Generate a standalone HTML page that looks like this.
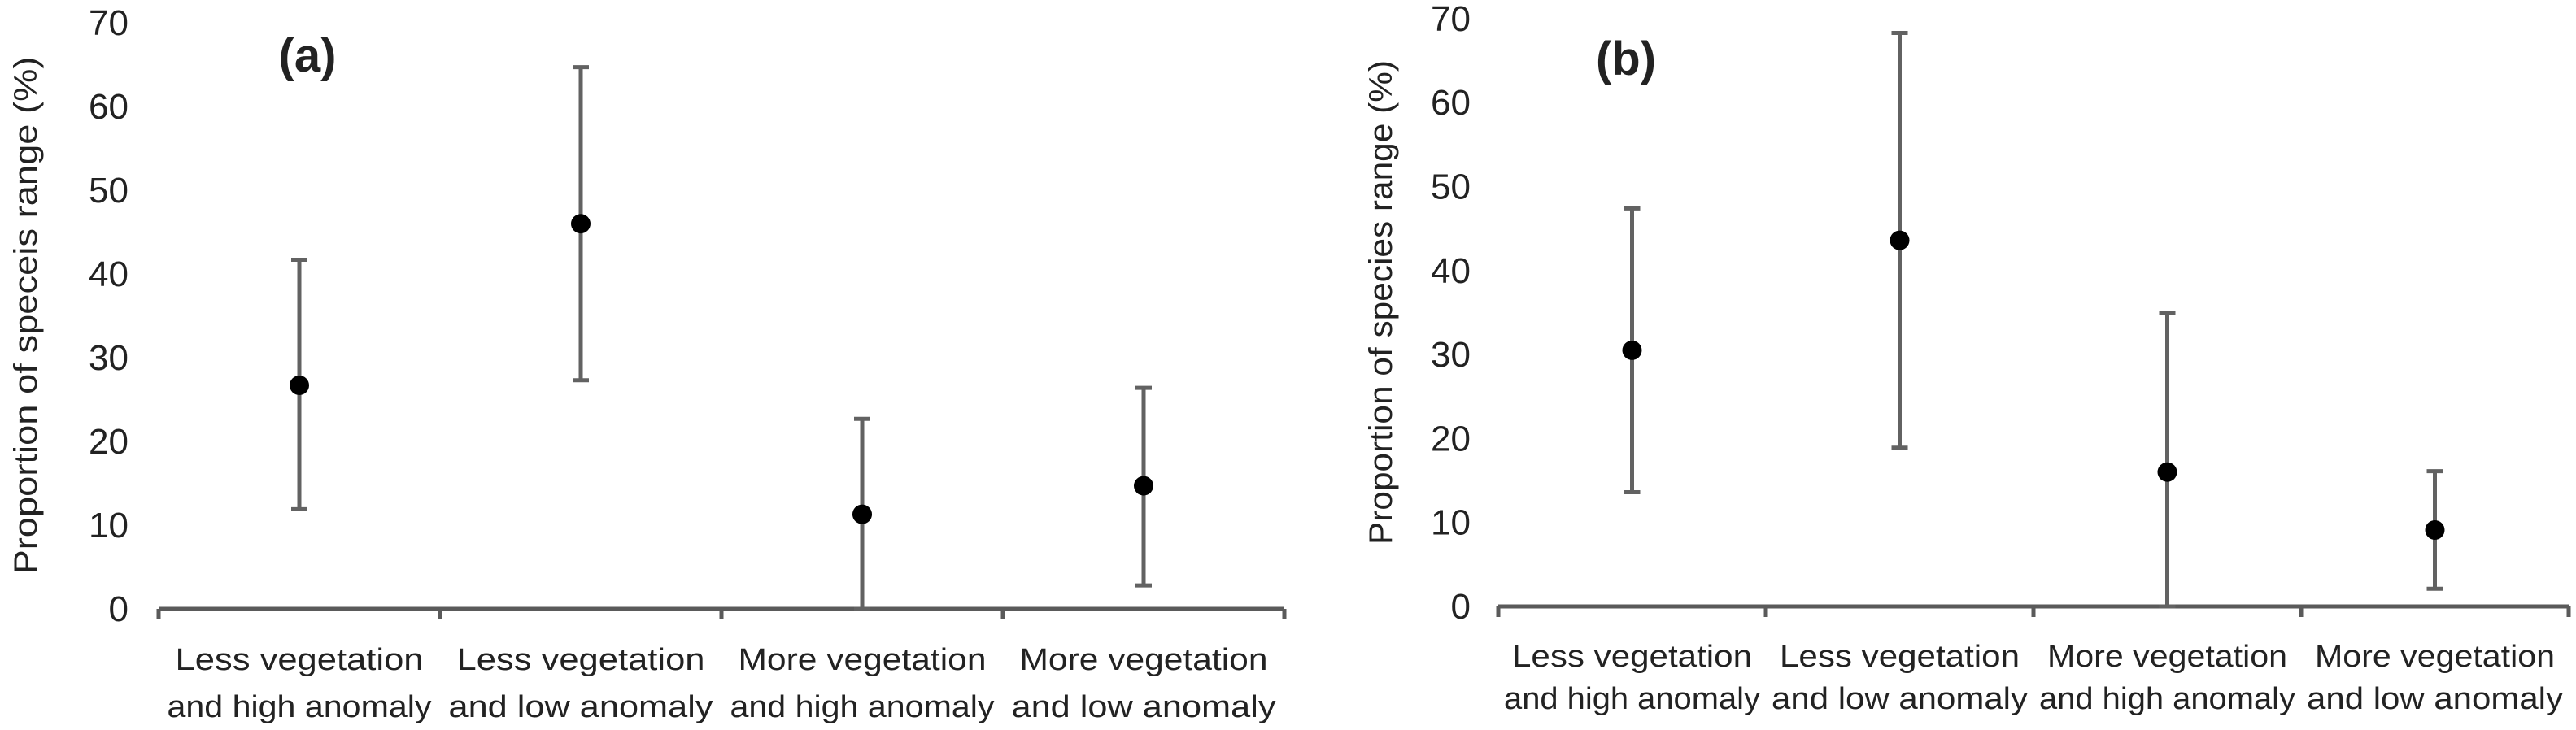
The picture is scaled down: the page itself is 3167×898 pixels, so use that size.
<!DOCTYPE html>
<html><head><meta charset="utf-8"><style>
html,body{margin:0;padding:0;background:#fff;}
svg{display:block;}
text{font-family:"Liberation Sans",sans-serif;fill:#222;}
</style></head><body>
<svg id="chart" width="3167" height="898" viewBox="0 0 3167 898" xmlns="http://www.w3.org/2000/svg"></svg>
<script>
const categoriesL1 = ["Less vegetation","Less vegetation","More vegetation","More vegetation"];
const categoriesL2 = ["and high anomaly","and low anomaly","and high anomaly","and low anomaly"];
const yTicks = [0,10,20,30,40,50,60,70];
const meanA = [26.7, 46.0, 11.3, 14.7];
const upperA = [41.7, 64.7, 22.7, 26.4];
const lowerA = [11.9, 27.3, 0, 2.8];
const meanB = [30.5, 43.6, 16.0, 9.1];
const upperB = [47.4, 68.3, 34.9, 16.1];
const lowerB = [13.6, 18.9, 0, 2.1];

const svg = document.getElementById('chart');
const NS = 'http://www.w3.org/2000/svg';
function mk(tag, attrs, parent){
  const e = document.createElementNS(NS, tag);
  for (const k in attrs) e.setAttribute(k, attrs[k]);
  (parent||svg).appendChild(e);
  return e;
}

function panel(cfg){
  const g = mk('g', {});
  
  
  const y = v => cfg.y0 - v * cfg.yScale;
  const bw = (cfg.x1 - cfg.x0) / categoriesL1.length;
  const x = i => cfg.x0 + bw * (i + 0.5);

  // y tick labels
  yTicks.forEach(t => {
    const tx = mk('text', {x: cfg.tickRight, y: y(t) + 15, 'text-anchor': 'end', 'font-size': 44}, g);
    tx.textContent = t;
    
    
  });
  // y title
  const yt = mk('text', {x: 0, y: 0, 'text-anchor': 'middle', 'font-size': 40,
    transform: `translate(${cfg.titleX},${cfg.titleY}) rotate(-90)`, textLength: cfg.titleLen, lengthAdjust: 'spacingAndGlyphs'}, g);
  yt.textContent = cfg.title;
  
  

  // x axis
  const ax = mk('line', {x1: cfg.x0, x2: cfg.x1, y1: cfg.y0, y2: cfg.y0, stroke: '#5a5a5a', 'stroke-width': 5}, g);
  
  
  for (let i = 0; i <= categoriesL1.length; i++){
    const tk = mk('line', {x1: cfg.x0 + bw*i, x2: cfg.x0 + bw*i, y1: cfg.y0, y2: cfg.y0 + 13, stroke: '#5a5a5a', 'stroke-width': 5}, g);
    
    
  }
  categoriesL1.forEach((c, i) => {
    const t1 = mk('text', {x: x(i), y: cfg.lab1, 'text-anchor': 'middle', 'font-size': 38, textLength: cfg.len1, lengthAdjust: 'spacingAndGlyphs'}, g);
    t1.textContent = c;
    
    
    const t2 = mk('text', {x: x(i), y: cfg.lab2, 'text-anchor': 'middle', 'font-size': 38, textLength: cfg.len2, lengthAdjust: 'spacingAndGlyphs'}, g);
    t2.textContent = categoriesL2[i];
    
    
  });

  // error bars + points
  cfg.mean.forEach((m, i) => {
    const xi = x(i);
    const eb = mk('line', {x1: xi, x2: xi, y1: y(cfg.upper[i]), y2: y(cfg.lower[i]), stroke: '#626262', 'stroke-width': 5}, g);
    
    
    [cfg.upper[i], cfg.lower[i]].forEach(v => {
      const cap = mk('line', {x1: xi - 10, x2: xi + 10, y1: y(v), y2: y(v), stroke: '#626262', 'stroke-width': 5}, g);
      
      
    });
    const pt = mk('circle', {cx: xi, cy: y(m), r: 12, fill: '#000'}, g);
    
    
  });

  const pl = mk('text', {x: cfg.plX, y: cfg.plY, 'text-anchor': 'middle', 'font-size': 58, 'font-weight': 'bold'}, g);
  pl.textContent = cfg.label;
  
  
}

panel({name: 'panel-a', x0: 195, x1: 1579, y0: 749, yScale: 10.3, tickRight: 158,
  titleX: 45, titleY: 388, titleLen: 637, title: 'Proportion of speceis range (%)',
  lab1: 824, lab2: 882, len1: 305, len2: 325, mean: meanA, upper: upperA, lower: lowerA,
  label: '(a)', plX: 378, plY: 88});
panel({name: 'panel-b', x0: 1842, x1: 3158, y0: 746, yScale: 10.33, tickRight: 1808,
  titleX: 1711, titleY: 372, titleLen: 596, title: 'Proportion of species range (%)',
  lab1: 820, lab2: 872, len1: 295, len2: 315, mean: meanB, upper: upperB, lower: lowerB,
  label: '(b)', plX: 1999, plY: 92});
</script>
</body></html>
